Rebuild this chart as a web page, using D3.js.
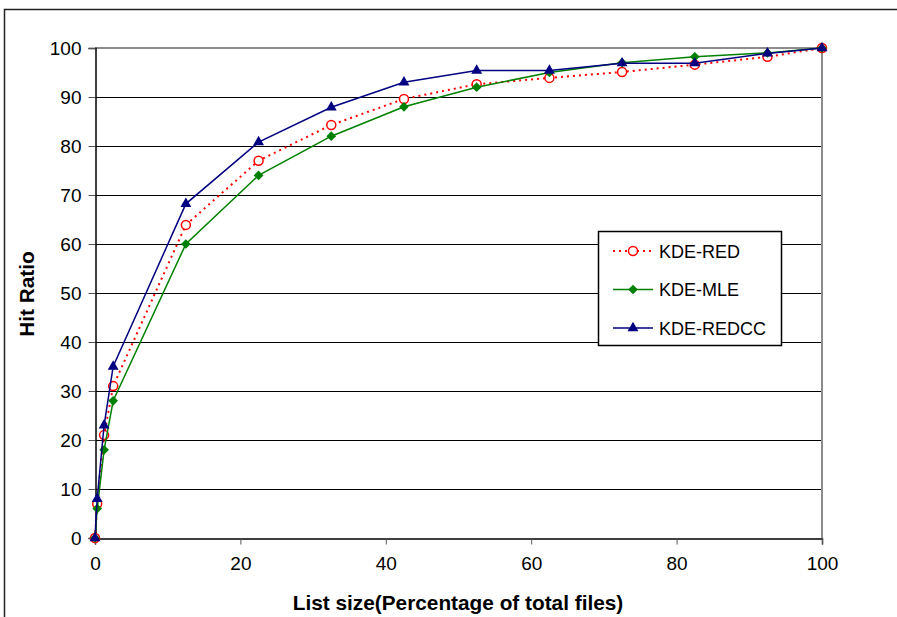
<!DOCTYPE html>
<html lang="en">
<head>
<meta charset="UTF-8">
<title>Hit Ratio</title>
<script src="https://cdn.jsdelivr.net/npm/d3@7"></script>
<style>
  body { margin: 0; background: #fff; }
  svg { display: block; font-family: "Liberation Sans", Arial, sans-serif; }
</style>
</head>
<body>
<svg id="chart" width="897" height="617"></svg>
<script>
// list size (% of total files)
const listSize = [0, 0.3, 1.25, 2.5, 12.5, 22.5, 32.5, 42.5, 52.5, 62.5, 72.5, 82.5, 92.5, 100];
const kdeRed   = [0, 7, 21, 31, 63.9, 77, 84.3, 89.6, 92.6, 93.9, 95.1, 96.6, 98.2, 100];
const kdeMle   = [0, 6, 18, 28, 60, 74, 82, 88, 92, 95, 97, 98.2, 99, 100];
const kdeRedcc = [0, 8, 23, 35, 68.2, 80.8, 87.9, 93, 95.4, 95.4, 96.9, 96.9, 98.9, 100];
const xTicks = [0, 20, 40, 60, 80, 100];
const yTicks = [0, 10, 20, 30, 40, 50, 60, 70, 80, 90, 100];
const seriesNames = ["KDE-RED", "KDE-MLE", "KDE-REDCC"];

const svg = d3.select("#chart");
const margin = { top: 48, left: 95, right: 75, bottom: 79 };
const width = 897, height = 617;

const x = d3.scaleLinear().domain([0, 100]).range([margin.left, width - margin.right]);
const y = d3.scaleLinear().domain([0, 100]).range([height - margin.bottom, margin.top]);

// outer frame
svg.append("path")
  .attr("d", `M4.5,${height + 2}V9.5H${width + 2}`)
  .attr("fill", "none").attr("stroke", "#222").attr("stroke-width", 1.5);

// gridlines
svg.append("g").selectAll("line")
  .data(yTicks.filter(d => d > 0 && d < 100))
  .join("line")
  .attr("x1", x(0)).attr("x2", x(100))
  .attr("y1", d => Math.round(y(d)) + 0.5).attr("y2", d => Math.round(y(d)) + 0.5)
  .attr("stroke", "#000").attr("stroke-width", 1);

// plot area border (top, right)
svg.append("path")
  .attr("d", `M${x(0)},${y(100)}H${x(100)}V${y(0)}`)
  .attr("fill", "none").attr("stroke", "#8c8c8c").attr("stroke-width", 2);

// axes
const xAxis = svg.append("g")
  .attr("transform", `translate(0,${Math.round(y(0)) + 0.5})`)
  .call(d3.axisBottom(x).tickValues(xTicks).tickSize(6).tickPadding(12));
const yAxis = svg.append("g")
  .attr("transform", `translate(${Math.round(x(0)) + 0.5},0)`)
  .call(d3.axisLeft(y).tickValues(yTicks).tickSize(7).tickPadding(7));

[xAxis, yAxis].forEach(g => {
  g.select(".domain").attr("stroke", "#000").attr("stroke-width", 1.5);
  g.selectAll(".tick line").attr("stroke", "#555");
  g.selectAll("text").attr("font-size", 19).attr("fill", "#000")
    .attr("font-family", "Liberation Sans, Arial, sans-serif");
});

// axis titles
svg.append("text")
  .attr("x", 458).attr("y", 610)
  .attr("text-anchor", "middle")
  .attr("font-size", 20.8).attr("font-weight", "bold")
  .text("List size(Percentage of total files)");
svg.append("text")
  .attr("transform", "translate(34,294) rotate(-90)")
  .attr("text-anchor", "middle")
  .attr("font-size", 20.8).attr("font-weight", "bold")
  .text("Hit Ratio");

// series
const series = [
  { name: seriesNames[0], values: kdeRed, color: "#ff0000", dash: "2,4", marker: "circle" },
  { name: seriesNames[1], values: kdeMle, color: "#008000", dash: null, marker: "diamond" },
  { name: seriesNames[2], values: kdeRedcc, color: "#000080", dash: null, marker: "triangle" }
];

const line = d3.line().x(d => x(d[0])).y(d => y(d[1]));
const sym = {
  circle: null,
  diamond: d3.symbol().type(d3.symbolDiamond2).size(60),
  triangle: d3.symbol().type(d3.symbolTriangle2).size(85)
};

function drawMarker(g, s, cx, cy) {
  if (s.marker === "circle") {
    g.append("circle").attr("cx", cx).attr("cy", cy).attr("r", 4.5)
      .attr("fill", "#fff").attr("stroke", s.color).attr("stroke-width", 1.5);
  } else {
    g.append("path").attr("d", sym[s.marker]())
      .attr("transform", `translate(${cx},${cy})`)
      .attr("fill", s.color);
  }
}

series.forEach(s => {
  const pts = listSize.map((v, i) => [v, s.values[i]]);
  const g = svg.append("g");
  g.append("path").datum(pts)
    .attr("d", line)
    .attr("fill", "none")
    .attr("stroke", s.color)
    .attr("stroke-width", s.dash ? 2 : 1.5)
    .attr("stroke-dasharray", s.dash);
  pts.forEach(p => drawMarker(g, s, x(p[0]), y(p[1])));
});

// legend
const legend = svg.append("g");
legend.append("rect")
  .attr("x", 598.5).attr("y", 231.5).attr("width", 183).attr("height", 114)
  .attr("fill", "#fff").attr("stroke", "#000").attr("stroke-width", 1.5);
series.forEach((s, i) => {
  const ly = 251 + i * 38.5;
  legend.append("line")
    .attr("x1", 613).attr("x2", 653).attr("y1", ly).attr("y2", ly)
    .attr("stroke", s.color).attr("stroke-width", s.dash ? 2 : 1.5)
    .attr("stroke-dasharray", s.dash);
  drawMarker(legend, s, 633, ly);
  legend.append("text")
    .attr("x", 659).attr("y", ly + 6.5)
    .attr("font-size", 18)
    .text(s.name);
});
</script>
</body>
</html>
